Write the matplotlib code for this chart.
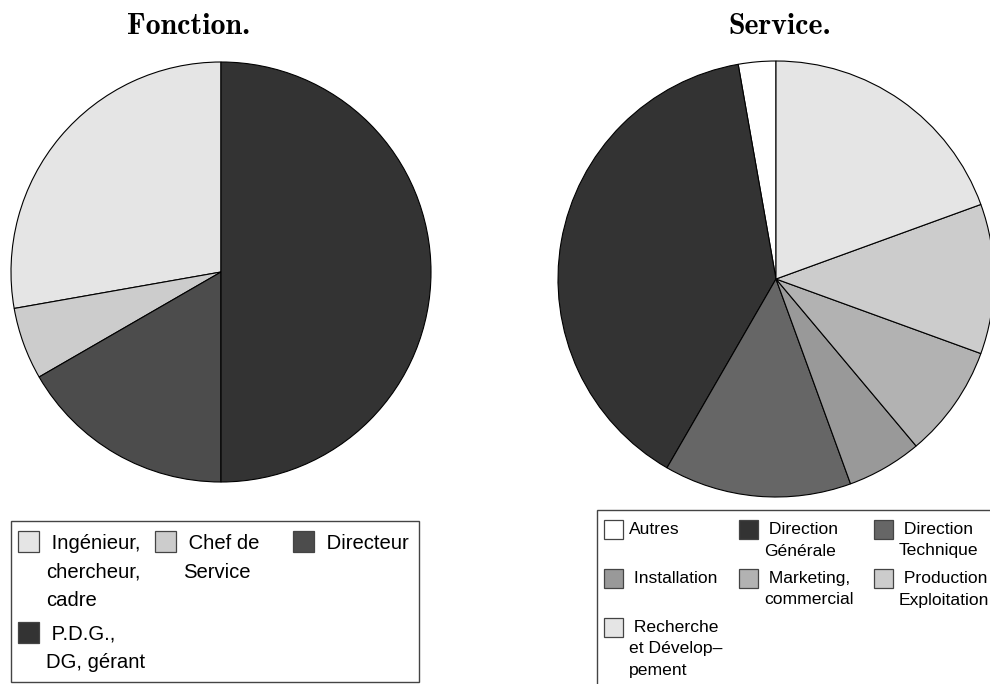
import matplotlib.pyplot as plt
from matplotlib.patches import Rectangle

W, H = 990, 684

# data
fonction_labels = [" Ingénieur,\nchercheur,\ncadre", " Chef de\nService", " Directeur", " P.D.G.,\nDG, gérant"]
fonction_values = [5, 1, 3, 9]
fonction_colors = ["#e5e5e5", "#cccccc", "#4c4c4c", "#333333"]

service_labels = ["Autres", " Direction\nGénérale", " Direction\nTechnique", " Installation",
                  " Marketing,\ncommercial", " Production\nExploitation", " Recherche\net Dévelop–\npement"]
service_values = [1, 14, 5, 2, 3, 4, 7]
service_colors = ["#ffffff", "#333333", "#666666", "#999999", "#b2b2b2", "#cccccc", "#e5e5e5"]


def fx(x):
    return x / W


def fy(y):
    return 1 - y / H


def pie_axes(fig, cx, cy, r):
    return fig.add_axes([fx(cx - r), fy(cy + r), 2 * r / W, 2 * r / H])


def draw_pie(ax, values, colors):
    ax.pie(values, colors=colors, startangle=90, counterclock=True,
           wedgeprops=dict(edgecolor="black", linewidth=0.8, clip_on=False))
    ax.set_xlim(-1, 1)
    ax.set_ylim(-1, 1)
    ax.axis("off")


def draw_legend(fig, labels, colors, box, col_x, first_base, line_step, gap,
                size, sq, sq_top, fontsize):
    x0, y0, x1, y1 = box
    fig.add_artist(Rectangle((fx(x0), fy(y1)), (x1 - x0) / W, (y1 - y0) / H,
                             transform=fig.transFigure, facecolor="white",
                             edgecolor="#444444", linewidth=1.0, zorder=1))
    ncol = len(col_x)
    base = first_base
    for r in range(0, len(labels), ncol):
        row = labels[r:r + ncol]
        nmax = 0
        for c, lab in enumerate(row):
            sx = col_x[c]
            fig.add_artist(Rectangle((fx(sx), fy(base + sq_top + sq)), sq / W, sq / H,
                                     transform=fig.transFigure, facecolor=colors[r + c],
                                     edgecolor="#444444", linewidth=0.9, zorder=2))
            lines = lab.split("\n")
            nmax = max(nmax, len(lines))
            for i, ln in enumerate(lines):
                fig.text(fx(sx + size), fy(base + i * line_step), ln, ha="left",
                         va="baseline", fontsize=fontsize, family="Liberation Sans",
                         zorder=3)
        base += nmax * line_step + gap


fig = plt.figure(figsize=(W / 100, H / 100), dpi=100)

ax1 = pie_axes(fig, 221, 272, 210)
draw_pie(ax1, fonction_values, fonction_colors)
ax2 = pie_axes(fig, 776, 279, 218)
draw_pie(ax2, service_values, service_colors)

fig.text(fx(189), fy(34), "Fonction.", ha="center", va="baseline", fontsize=21.5,
         family="cmb10")
fig.text(fx(780), fy(34), "Service.", ha="center", va="baseline", fontsize=21.5,
         family="cmb10")

draw_legend(fig, fonction_labels, fonction_colors, (11, 521, 419, 682),
            [18, 155, 293], 549, 28.5, 5, 28, 21, -18, 14.6)
draw_legend(fig, service_labels, service_colors, (597, 510, 1005, 700),
            [604, 739, 874], 534, 21.5, 6, 25, 18.5, -14, 12.6)

fig.savefig("out.png", dpi=100)
